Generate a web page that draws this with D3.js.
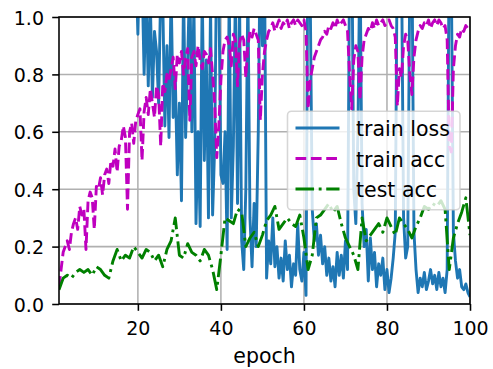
<!DOCTYPE html>
<html>
<head>
<meta charset="utf-8">
<script src="https://cdn.jsdelivr.net/npm/d3@7"></script>
<style>
  body { margin: 0; background: #fff; }
  text { font-family: "DejaVu Sans", sans-serif; fill: #000; }
</style>
</head>
<body>
<svg width="493" height="369"></svg>
<script>
// train values every half epoch, test values once per epoch
var trainEpochs = d3.range(1, 100.5, 0.5);
var testEpochs = d3.range(1, 101);

var trainLoss = [
  2.31, 2.28, 2.30, 2.24, 2.19, 2.15, 2.12, 2.05, 2.01, 1.97,
  1.94, 1.86, 1.83, 1.80, 1.76, 1.71, 1.69, 1.64, 1.61, 1.58,
  1.52, 1.55, 1.47, 1.44, 1.46, 1.39, 1.36, 1.33, 1.35, 1.28,
  1.25, 1.27, 1.22, 1.19, 1.21, 1.16, 1.14, 1.20, 0.94, 1.25,
  1.15, 0.80, 1.10, 0.76, 1.05, 0.72, 0.95, 0.88, 0.70, 1.10,
  1.05, 0.62, 0.90, 0.58, 1.10, 0.65, 0.80, 0.45, 0.70, 0.36,
  1.10, 0.58, 0.85, 1.15, 0.60, 1.05, 0.28, 0.60, 0.27, 1.10,
  0.50, 0.85, 0.30, 1.05, 0.31, 0.55, 1.25, 1.10, 0.45, 0.42,
  0.60, 0.19, 1.10, 0.30, 0.55, 1.10, 0.35, 1.05, 0.22, 0.12,
  0.40, 1.10, 0.30, 0.13, 0.35, 0.20, 0.60, 1.30, 0.90, 1.20,
  0.09, 0.22, 0.14, 0.30, 0.13, 0.20, 0.09, 0.16, 0.08, 0.22,
  0.12, 0.17, 0.06, 0.14, 0.10, 0.28, 0.12, 0.08, 0.18, 0.03,
  1.40, 1.10, 0.33, 0.22, 0.28, 0.17, 0.24, 0.14, 0.20, 0.10,
  0.16, 0.08, 0.13, 0.06, 0.18, 0.10, 0.17, 0.09, 0.22, 0.12,
  1.20, 1.35, 0.40, 0.28, 0.60, 1.25, 0.35, 0.20, 0.26, 0.08,
  0.23, 0.12, 0.18, 0.06, 0.14, 0.10, 0.16, 0.05, 0.12, 0.04,
  0.09, 0.16, 0.25, 1.30, 1.10, 1.20, 0.30, 0.16, 0.20, 1.15,
  1.25, 0.25, 0.12, 0.04, 0.09, 0.06, 0.11, 0.05, 0.08, 0.12,
  0.07, 0.10, 0.05, 0.11, 0.06, 0.09, 0.04, 0.12, 1.30, 1.15,
  0.25, 0.15, 0.09, 0.12, 0.06, 0.05, 0.07, 0.04, 0.025
];

var trainAcc = [
  0.06, 0.12, 0.18, 0.20, 0.22, 0.19, 0.25, 0.28, 0.30, 0.26,
  0.34, 0.31, 0.33, 0.19, 0.36, 0.39, 0.37, 0.26, 0.41, 0.40,
  0.44, 0.38, 0.45, 0.47, 0.42, 0.50, 0.48, 0.54, 0.46, 0.55,
  0.57, 0.62, 0.58, 0.33, 0.60, 0.63, 0.56, 0.64, 0.66, 0.68,
  0.50, 0.67, 0.72, 0.66, 0.75, 0.70, 0.65, 0.76, 0.73, 0.55,
  0.77, 0.74, 0.80, 0.78, 0.82, 0.86, 0.75, 0.87, 0.84, 0.88,
  0.80, 0.86, 0.89, 0.64, 0.86, 0.88, 0.83, 0.90, 0.85, 0.82,
  0.88, 0.87, 0.84, 0.89, 0.80, 0.70, 0.51, 0.62, 0.78, 0.88,
  0.92, 0.93, 0.90, 0.83, 0.94, 0.92, 0.76, 0.91, 0.94, 0.92,
  0.79, 0.90, 0.95, 0.93, 0.96, 0.94, 0.92, 0.64, 0.80, 0.88,
  0.92, 0.95, 0.96, 0.98, 0.95, 0.97, 0.99, 0.96, 0.98, 0.97,
  0.99, 0.96, 0.98, 0.99, 0.97, 0.99, 0.98, 0.97, 0.99, 0.95,
  0.68, 0.78, 0.82, 0.86, 0.88, 0.90, 0.92, 0.93, 0.95, 0.94,
  0.97, 0.96, 0.98, 0.96, 0.99, 0.97, 0.98, 0.99, 0.97, 0.95,
  0.80, 0.68, 0.85, 0.90, 0.88, 0.71, 0.86, 0.92, 0.94, 0.96,
  0.95, 0.98, 0.96, 0.99, 0.97, 0.98, 0.99, 0.97, 0.98, 0.99,
  0.97, 0.96, 0.93, 0.69, 0.82, 0.79, 0.90, 0.94, 0.92, 0.80,
  0.73, 0.86, 0.92, 0.95, 0.97, 0.96, 0.98, 0.97, 0.99, 0.96,
  0.98, 0.99, 0.97, 0.99, 0.98, 0.96, 0.97, 0.92, 0.55, 0.53,
  0.82, 0.90, 0.94, 0.93, 0.96, 0.95, 0.97, 0.96, 0.97
];

var testAcc = [
  0.05, 0.09, 0.10, 0.09, 0.11, 0.12, 0.11, 0.12, 0.10, 0.13,
  0.12, 0.10, 0.09, 0.15, 0.19, 0.15, 0.17, 0.16, 0.20, 0.18,
  0.16, 0.19, 0.18, 0.15, 0.17, 0.13, 0.19, 0.22, 0.30, 0.17,
  0.16, 0.21, 0.18, 0.17, 0.15, 0.19, 0.17, 0.12, 0.05, 0.17,
  0.30, 0.29, 0.28, 0.33, 0.32, 0.20, 0.23, 0.25, 0.20, 0.24,
  0.29, 0.31, 0.34, 0.26, 0.28, 0.30, 0.28, 0.27, 0.31, 0.23,
  0.12, 0.17, 0.30, 0.31, 0.33, 0.35, 0.32, 0.34, 0.28, 0.23,
  0.20, 0.17, 0.12, 0.30, 0.22, 0.24, 0.26, 0.28, 0.25, 0.30,
  0.27, 0.24, 0.30, 0.28, 0.26, 0.23, 0.27, 0.30, 0.34, 0.33,
  0.35, 0.34, 0.36, 0.33, 0.12, 0.23, 0.28, 0.32, 0.37, 0.24
];

var xTicks = [20, 40, 60, 80, 100];
var yTicks = [0, 0.2, 0.4, 0.6, 0.8, 1.0];
var seriesNames = ["train loss", "train acc", "test acc"];

var margin = {
  top: 17,
  right: 23,
  bottom: 65,
  left: 59
};
var svg = d3.select("svg");
var width = +svg.attr("width") - margin.left - margin.right;
var height = +svg.attr("height") - margin.top - margin.bottom;
var g = svg.append("g")
  .attr("transform", "translate(" + margin.left + "," + margin.top + ")");

var lw = 2.9;
var series = [
  { name: seriesNames[0], xs: trainEpochs, ys: trainLoss, color: "#1f77b4", dash: null },
  { name: seriesNames[1], xs: trainEpochs, ys: trainAcc, color: "#bf00bf", dash: [3.7 * lw, 1.6 * lw] },
  { name: seriesNames[2], xs: testEpochs, ys: testAcc, color: "#008000", dash: [6.4 * lw, 1.6 * lw, 1 * lw, 1.6 * lw] }
];

var scaleX = d3.scaleLinear()
  .domain([1, 100])
  .range([0, width]);
var scaleY = d3.scaleLinear()
  .domain([0, 1])
  .range([height, 0]);

svg.append("defs").append("clipPath")
    .attr("id", "clip")
  .append("rect")
    .attr("width", width)
    .attr("height", height);

// grid
g.selectAll(".grid-x")
  .data(xTicks)
  .enter().append("line")
  .attr("x1", function(d) { return scaleX(d); })
  .attr("x2", function(d) { return scaleX(d); })
  .attr("y1", 0)
  .attr("y2", height)
  .attr("stroke", "#b0b0b0")
  .attr("stroke-width", 1.55);

g.selectAll(".grid-y")
  .data(yTicks)
  .enter().append("line")
  .attr("x1", 0)
  .attr("x2", width)
  .attr("y1", function(d) { return scaleY(d); })
  .attr("y2", function(d) { return scaleY(d); })
  .attr("stroke", "#b0b0b0")
  .attr("stroke-width", 1.55);

var line = d3.line()
  .x(function(d) { return scaleX(d[0]); })
  .y(function(d) { return scaleY(d[1]); });

var lines = g.append("g").attr("clip-path", "url(#clip)");
series.forEach(function(s) {
  var pts = s.ys.map(function(v, i) { return [s.xs[i], v]; });
  lines.append("path")
    .datum(pts)
    .attr("fill", "none")
    .attr("stroke", s.color)
    .attr("stroke-width", lw)
    .attr("stroke-linejoin", "round")
    .attr("stroke-dasharray", s.dash ? s.dash.join(",") : null)
    .attr("d", line);
});

// axes
var xAxis = d3.axisBottom(scaleX)
  .tickValues(xTicks)
  .tickSize(6.8)
  .tickPadding(10.5)
  .tickFormat(d3.format("d"));
var yAxis = d3.axisLeft(scaleY)
  .tickValues(yTicks)
  .tickSize(6.8)
  .tickPadding(8.2)
  .tickFormat(d3.format(".1f"));

var gx = g.append("g")
  .attr("transform", "translate(0," + height + ")")
  .call(xAxis);
var gy = g.append("g")
  .call(yAxis);

[gx, gy].forEach(function(ax) {
  ax.select(".domain").remove();
  ax.selectAll(".tick line").attr("stroke", "#000").attr("stroke-width", 1.55);
  ax.selectAll(".tick text")
    .attr("fill", "#000")
    .style("font-size", "19px")
    .style("font-family", "DejaVu Sans");
});
gy.selectAll(".tick text").attr("dy", "0.37em");

g.append("rect")
  .attr("width", width)
  .attr("height", height)
  .attr("fill", "none")
  .attr("stroke", "#000")
  .attr("stroke-width", 1.55);

g.append("text")
  .attr("x", width / 2)
  .attr("y", height + 59)
  .attr("text-anchor", "middle")
  .style("font-size", "20.5px")
  .text("epoch");

// legend
var legW = 172.5, legH = 98.5;
var legend = g.append("g")
  .attr("transform", "translate(" + (width - 10 - legW) + "," + ((height - legH) / 2) + ")");

legend.append("rect")
  .attr("width", legW)
  .attr("height", legH)
  .attr("rx", 4)
  .attr("fill", "#fff")
  .attr("fill-opacity", 0.8)
  .attr("stroke", "#cccccc")
  .attr("stroke-opacity", 0.8)
  .attr("stroke-width", 1.55);

series.forEach(function(s, i) {
  var yy = 16.8 + i * 30.5;
  legend.append("line")
    .attr("x1", 8)
    .attr("x2", 52)
    .attr("y1", yy)
    .attr("y2", yy)
    .attr("stroke", s.color)
    .attr("stroke-width", lw)
    .attr("stroke-dasharray", s.dash ? s.dash.join(",") : null);
  legend.append("text")
    .attr("x", 68.5)
    .attr("y", yy + 8)
    .style("font-size", "20.5px")
    .text(s.name);
});
</script>
</body>
</html>
